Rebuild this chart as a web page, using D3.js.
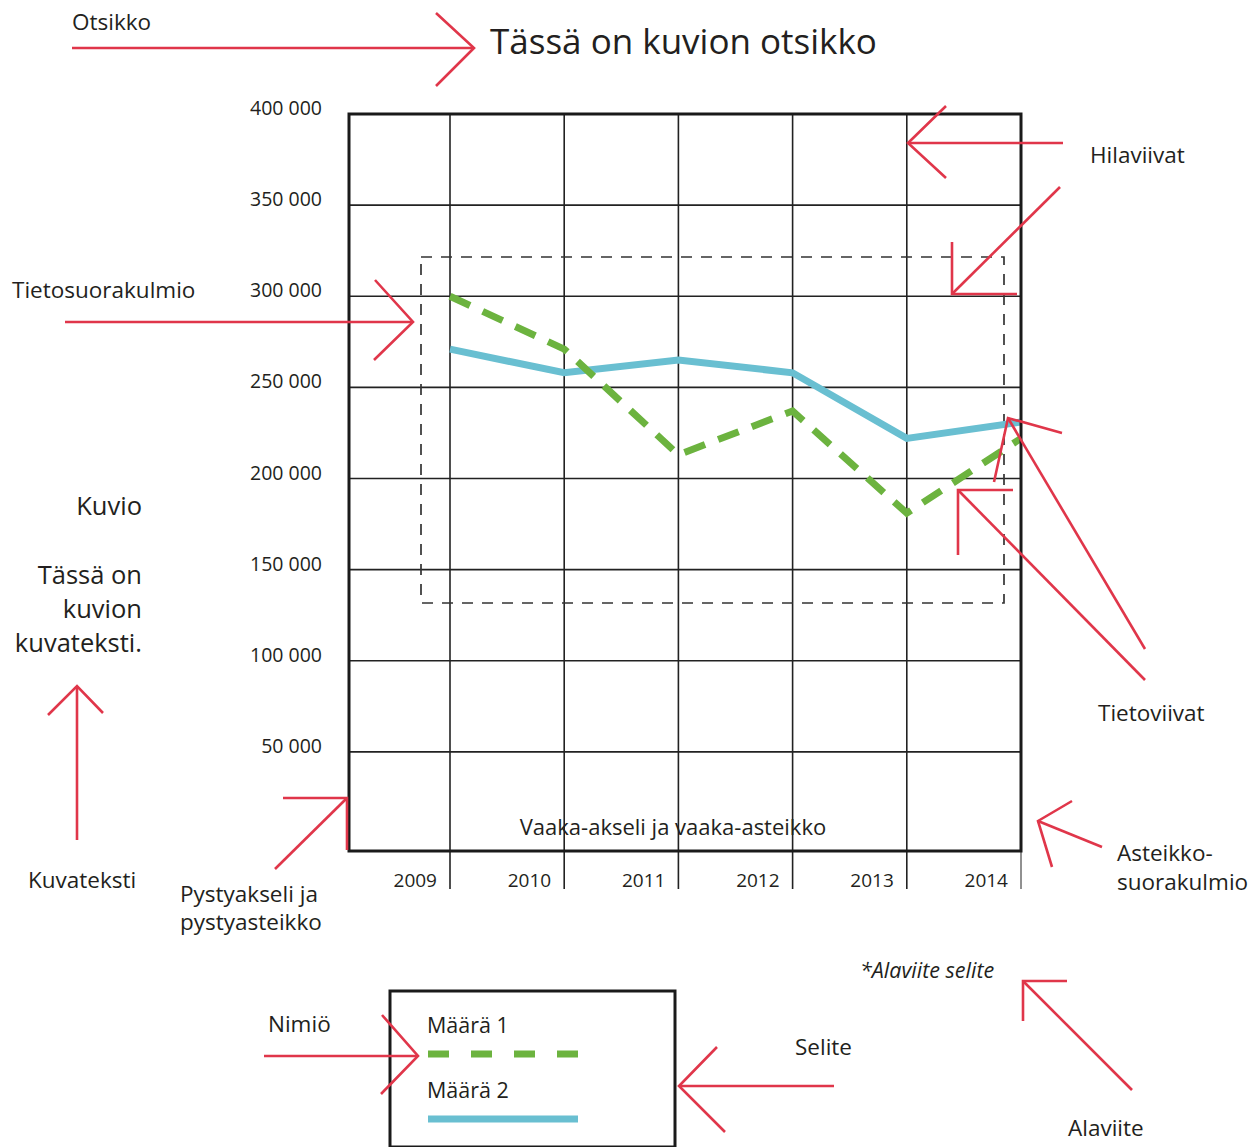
<!DOCTYPE html>
<html>
<head>
<meta charset="utf-8">
<script src="https://cdn.jsdelivr.net/npm/d3@7"></script>
<style>
  body { margin: 0; background: #fff; }
  text { font-family: "Open Sans", sans-serif; fill: #231f20; }
</style>
</head>
<body>
<svg id="chart"></svg>
<script>
// data
var years = [2009, 2010, 2011, 2012, 2013, 2014];
var maara1 = [300000, 271000, 213000, 237000, 181000, 222000];
var maara2 = [271000, 258000, 265000, 258000, 222000, 231000];
var yTicks = [50000, 100000, 150000, 200000, 250000, 300000, 350000, 400000];
var seriesNames = ["Määrä 1", "Määrä 2"];
var seriesColors = ["#6cb33f", "#69bfd1"];

var W = 1258, H = 1147;
var red = "#e0364a";

var svg = d3.select("#chart").attr("width", W).attr("height", H);

var x = d3.scaleLinear().domain([2009, 2014]).range([450, 1021]);
var y = d3.scaleLinear().domain([0, 400000]).range([843, 114]);
var frameL = 349, frameR = x(2014), frameT = y(400000), frameB = 851;

var fmt = d3.formatLocale({decimal: ",", thousands: " ", grouping: [3], currency: ["", ""]}).format(",");

// horizontal grid
svg.append("g").selectAll("line")
   .data(yTicks.filter(function(d) { return d < 400000; }))
   .enter().append("line")
   .attr("x1", frameL).attr("x2", frameR)
   .attr("y1", function(d) { return y(d); })
   .attr("y2", function(d) { return y(d); })
   .attr("stroke", "#222").attr("stroke-width", 1.6);

// vertical grid + ticks below the axis
svg.append("g").selectAll("line")
   .data(years)
   .enter().append("line")
   .attr("x1", function(d) { return x(d); })
   .attr("x2", function(d) { return x(d); })
   .attr("y1", frameT).attr("y2", 889)
   .attr("stroke", "#222")
   .attr("stroke-width", function(d) { return d === 2014 ? 1 : 1.6; });

// y tick labels
svg.append("g").selectAll("text")
   .data(yTicks)
   .enter().append("text")
   .attr("x", 322)
   .attr("y", function(d) { return y(d) + 1; })
   .attr("text-anchor", "end")
   .style("font-size", "19.5px")
   .text(function(d) { return fmt(d); });

// year labels
svg.append("g").selectAll("text")
   .data(years)
   .enter().append("text")
   .attr("x", function(d) { return x(d) - 13; })
   .attr("y", 887)
   .attr("text-anchor", "end")
   .style("font-size", "19px")
   .text(function(d) { return d; });

// data rectangle (dashed)
svg.append("rect")
   .attr("x", 421).attr("y", 257).attr("width", 583).attr("height", 346)
   .attr("fill", "none").attr("stroke", "#333").attr("stroke-width", 1.7)
   .attr("stroke-dasharray", "11,9");

// data lines
var line = d3.line()
    .x(function(d, i) { return x(years[i]); })
    .y(function(d) { return y(d); });

svg.append("path").datum(maara2)
   .attr("d", line)
   .attr("fill", "none").attr("stroke", seriesColors[1]).attr("stroke-width", 7);

svg.append("path").datum(maara1)
   .attr("d", line)
   .attr("fill", "none").attr("stroke", seriesColors[0]).attr("stroke-width", 7)
   .attr("stroke-dasharray", "22,14");

// frame
svg.append("rect")
   .attr("x", frameL).attr("y", frameT)
   .attr("width", frameR - frameL).attr("height", frameB - frameT)
   .attr("fill", "none").attr("stroke", "#1a1a1a").attr("stroke-width", 3);

svg.append("text")
   .attr("x", 673).attr("y", 835)
   .attr("text-anchor", "middle")
   .style("font-size", "22px")
   .text("Vaaka-akseli ja vaaka-asteikko");

// legend
var lg = svg.append("g");
lg.append("rect")
  .attr("x", 390).attr("y", 991).attr("width", 285).attr("height", 156)
  .attr("fill", "none").attr("stroke", "#1a1a1a").attr("stroke-width", 3);
seriesNames.forEach(function(name, i) {
    lg.append("text")
      .attr("x", 427).attr("y", 1033 + i * 65)
      .style("font-size", "21.5px")
      .text(name);
    lg.append("line")
      .attr("x1", 428).attr("x2", 578)
      .attr("y1", 1054 + i * 65).attr("y2", 1054 + i * 65)
      .attr("stroke", seriesColors[i]).attr("stroke-width", 7)
      .attr("stroke-dasharray", i === 0 ? "21,22" : null);
});

// title
svg.append("text")
   .attr("x", 490).attr("y", 54)
   .style("font-size", "35px")
   .text("Tässä on kuvion otsikko");

// annotation labels
var notes = [
  {t: "Otsikko", x: 72, y: 30},
  {t: "Hilaviivat", x: 1090, y: 163},
  {t: "Tietosuorakulmio", x: 12, y: 298},
  {t: "Kuvio", x: 142, y: 515, a: "end", s: 25.5},
  {t: "Tässä on", x: 142, y: 584, a: "end", s: 25.5},
  {t: "kuvion", x: 142, y: 618, a: "end", s: 25.5},
  {t: "kuvateksti.", x: 142, y: 652, a: "end", s: 25.5},
  {t: "Kuvateksti", x: 28, y: 888},
  {t: "Pystyakseli ja", x: 180, y: 902},
  {t: "pystyasteikko", x: 180, y: 930},
  {t: "Tietoviivat", x: 1098, y: 721},
  {t: "Asteikko-", x: 1117, y: 861},
  {t: "suorakulmio", x: 1117, y: 890},
  {t: "*Alaviite selite", x: 860, y: 978, it: true, s: 21.5},
  {t: "Nimiö", x: 268, y: 1032},
  {t: "Selite", x: 795, y: 1055},
  {t: "Alaviite", x: 1068, y: 1136}
];
svg.append("g").selectAll("text")
   .data(notes)
   .enter().append("text")
   .attr("x", function(d) { return d.x; })
   .attr("y", function(d) { return d.y; })
   .attr("text-anchor", function(d) { return d.a || "start"; })
   .style("font-size", function(d) { return (d.s || 22.5) + "px"; })
   .style("font-style", function(d) { return d.it ? "italic" : "normal"; })
   .text(function(d) { return d.t; });

// red arrows (shaft, head)
var arrows = [
  [[[72, 48], [474, 48]], [[436, 13], [474, 48], [436, 86]]],
  [[[65, 322], [413, 322]], [[375, 280], [413, 322], [374, 360]]],
  [[[1063, 143], [908, 143]], [[946, 106], [908, 143], [946, 178]]],
  [[[1060, 187], [952, 294]], [[952, 242], [952, 294], [1017, 294]]],
  [[[1145, 649], [1008, 418]], [[1062, 433], [1008, 418], [994, 482]]],
  [[[1145, 680], [958, 490]], [[1013, 490], [958, 490], [958, 555]]],
  [[[1102, 847], [1038, 821]], [[1072, 801], [1038, 821], [1052, 867]]],
  [[[275, 869], [347, 798]], [[283, 798], [347, 798], [347, 850]]],
  [[[77, 840], [77, 686]], [[48, 715], [77, 686], [103, 713]]],
  [[[264, 1056], [418, 1056]], [[382, 1015], [418, 1056], [381, 1094]]],
  [[[834, 1086], [679, 1086]], [[717, 1047], [679, 1086], [725, 1132]]],
  [[[1132, 1090], [1023, 981]], [[1067, 981], [1023, 981], [1023, 1021]]]
];
var poly = d3.line();
var ag = svg.append("g");
arrows.forEach(function(a) {
    a.forEach(function(pts) {
        ag.append("path")
          .attr("d", poly(pts))
          .attr("fill", "none")
          .attr("stroke", red)
          .attr("stroke-width", 2.6);
    });
});
</script>
</body>
</html>
